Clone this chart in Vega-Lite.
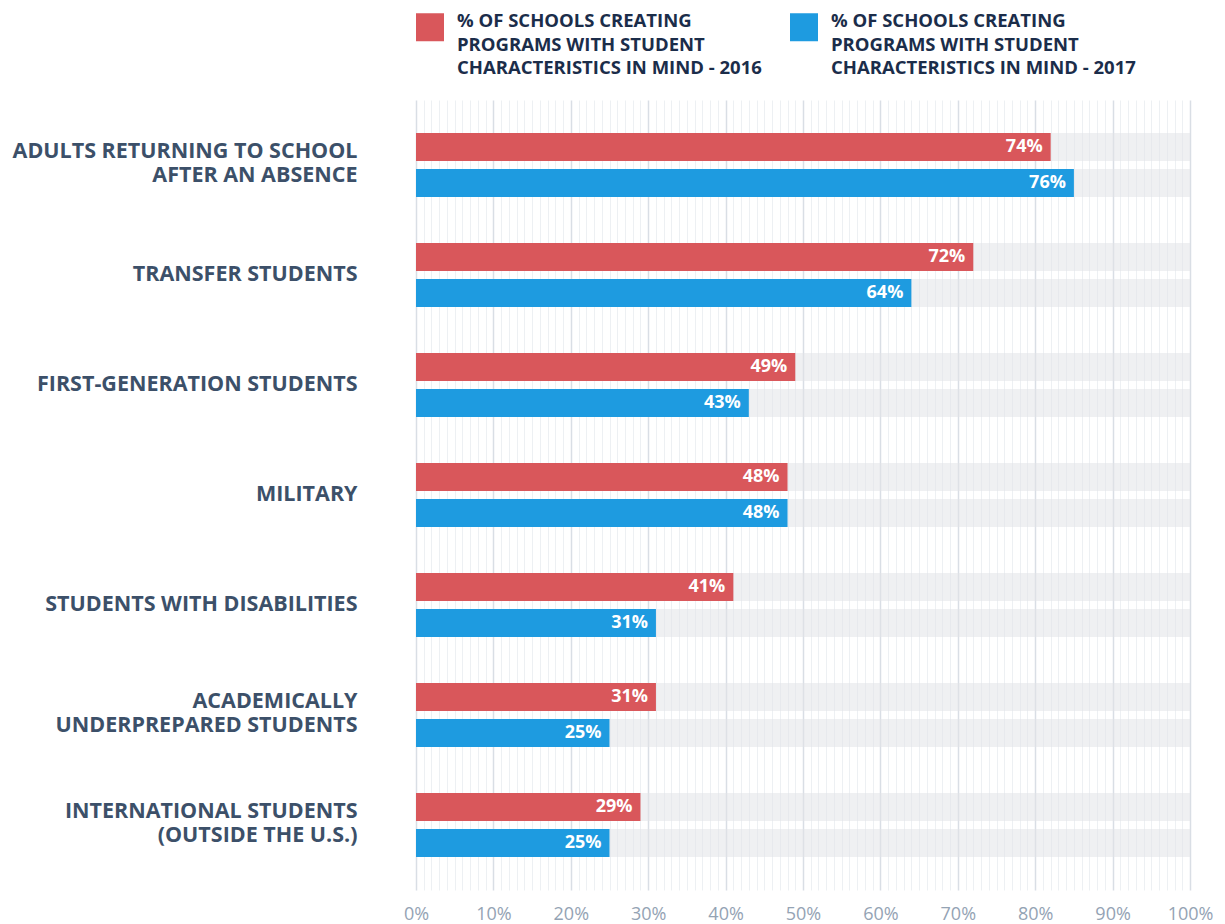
{
  "$schema": "https://vega.github.io/schema/vega-lite/v6.json",
  "width": 774,
  "height": 790,
  "autosize": {"type": "none"},
  "padding": {"left": 416, "top": 100, "right": 35, "bottom": 34},
  "background": "#ffffff",
  "config": {
    "font": "Open Sans",
    "view": {"stroke": null}
  },
  "data": {
    "values": [
      {"category": "ADULTS RETURNING TO SCHOOL|AFTER AN ABSENCE", "series": "% OF SCHOOLS CREATING|PROGRAMS WITH STUDENT|CHARACTERISTICS IN MIND - 2016", "value": 82, "label": "74%"},
      {"category": "ADULTS RETURNING TO SCHOOL|AFTER AN ABSENCE", "series": "% OF SCHOOLS CREATING|PROGRAMS WITH STUDENT|CHARACTERISTICS IN MIND - 2017", "value": 85, "label": "76%"},
      {"category": "TRANSFER STUDENTS", "series": "% OF SCHOOLS CREATING|PROGRAMS WITH STUDENT|CHARACTERISTICS IN MIND - 2016", "value": 72, "label": "72%"},
      {"category": "TRANSFER STUDENTS", "series": "% OF SCHOOLS CREATING|PROGRAMS WITH STUDENT|CHARACTERISTICS IN MIND - 2017", "value": 64, "label": "64%"},
      {"category": "FIRST-GENERATION STUDENTS", "series": "% OF SCHOOLS CREATING|PROGRAMS WITH STUDENT|CHARACTERISTICS IN MIND - 2016", "value": 49, "label": "49%"},
      {"category": "FIRST-GENERATION STUDENTS", "series": "% OF SCHOOLS CREATING|PROGRAMS WITH STUDENT|CHARACTERISTICS IN MIND - 2017", "value": 43, "label": "43%"},
      {"category": "MILITARY", "series": "% OF SCHOOLS CREATING|PROGRAMS WITH STUDENT|CHARACTERISTICS IN MIND - 2016", "value": 48, "label": "48%"},
      {"category": "MILITARY", "series": "% OF SCHOOLS CREATING|PROGRAMS WITH STUDENT|CHARACTERISTICS IN MIND - 2017", "value": 48, "label": "48%"},
      {"category": "STUDENTS WITH DISABILITIES", "series": "% OF SCHOOLS CREATING|PROGRAMS WITH STUDENT|CHARACTERISTICS IN MIND - 2016", "value": 41, "label": "41%"},
      {"category": "STUDENTS WITH DISABILITIES", "series": "% OF SCHOOLS CREATING|PROGRAMS WITH STUDENT|CHARACTERISTICS IN MIND - 2017", "value": 31, "label": "31%"},
      {"category": "ACADEMICALLY|UNDERPREPARED STUDENTS", "series": "% OF SCHOOLS CREATING|PROGRAMS WITH STUDENT|CHARACTERISTICS IN MIND - 2016", "value": 31, "label": "31%"},
      {"category": "ACADEMICALLY|UNDERPREPARED STUDENTS", "series": "% OF SCHOOLS CREATING|PROGRAMS WITH STUDENT|CHARACTERISTICS IN MIND - 2017", "value": 25, "label": "25%"},
      {"category": "INTERNATIONAL STUDENTS|(OUTSIDE THE U.S.)", "series": "% OF SCHOOLS CREATING|PROGRAMS WITH STUDENT|CHARACTERISTICS IN MIND - 2016", "value": 29, "label": "29%"},
      {"category": "INTERNATIONAL STUDENTS|(OUTSIDE THE U.S.)", "series": "% OF SCHOOLS CREATING|PROGRAMS WITH STUDENT|CHARACTERISTICS IN MIND - 2017", "value": 25, "label": "25%"}
    ]
  },
  "encoding": {
    "y": {
      "field": "category",
      "type": "nominal",
      "sort": null,
      "scale": {"paddingInner": 0.418, "paddingOuter": 0.3},
      "axis": {
        "title": null,
        "domain": false,
        "ticks": false,
        "labelExpr": "split(datum.label, '|')",
        "labelFont": "Open Sans",
        "labelFontSize": 21.5,
        "labelFontWeight": "bold",
        "labelColor": "#3c5069",
        "labelLineHeight": 24,
        "labelPadding": 59,
        "labelLimit": 420,
        "labelAlign": "right",
        "labelBaseline": "middle",
        "labelOffset": {"condition": {"test": "indexof(datum.value, '|') >= 0", "value": -13}, "value": 0}
      }
    },
    "yOffset": {
      "field": "series",
      "type": "nominal",
      "sort": null,
      "scale": {"paddingInner": 0.222, "paddingOuter": 0}
    }
  },
  "layer": [
    {
      "mark": {"type": "bar", "color": "#e1e3e8", "opacity": 0.55},
      "encoding": {
        "x": {
          "datum": 0,
          "type": "quantitative",
          "scale": {"domain": [0, 100], "nice": false},
          "axis": {
            "title": null,
            "domain": false,
            "ticks": false,
            "grid": true,
            "tickCount": 100,
            "gridColor": {"condition": {"test": "datum.value % 10 === 0", "value": "#d9dee5"}, "value": "#edf0f3"},
            "gridWidth": {"condition": {"test": "datum.value % 10 === 0", "value": 1.5}, "value": 1},
            "labelExpr": "datum.value % 10 === 0 ? datum.value + '%' : ''",
            "labelOverlap": false,
            "labelFlush": false,
            "labelFont": "Open Sans",
            "labelFontSize": 18,
            "labelColor": "#94a3b4",
            "labelPadding": 15
          }
        },
        "x2": {"datum": 100}
      }
    },
    {
      "mark": {"type": "bar"},
      "encoding": {
        "x": {"field": "value", "type": "quantitative"},
        "color": {
          "field": "series",
          "type": "nominal",
          "sort": null,
          "scale": {"range": ["#d9575b", "#1e9be0"]},
          "legend": {
            "title": null,
            "orient": "none",
            "legendX": 0,
            "legendY": -87,
            "direction": "horizontal",
            "columns": 2,
            "columnPadding": 28,
            "symbolType": "square",
            "symbolSize": 784,
            "symbolStrokeWidth": 0,
            "symbolOpacity": 1,
            "labelExpr": "split(datum.label, '|')",
            "labelFont": "Open Sans",
            "labelFontSize": 18.5,
            "labelFontWeight": "bold",
            "labelColor": "#1b2d4a",
            "labelLimit": 400,
            "labelOffset": 13,
            "labelBaseline": "top",
            "encode": {
              "labels": {"update": {"lineHeight": {"value": 23.5}, "dy": {"value": -15}}}
            }
          }
        }
      }
    },
    {
      "mark": {"type": "text", "align": "right", "baseline": "middle", "dx": -8, "color": "#ffffff", "fontSize": 18, "fontWeight": "bold", "font": "Open Sans"},
      "encoding": {
        "x": {"field": "value", "type": "quantitative"},
        "text": {"field": "label"}
      }
    }
  ]
}
